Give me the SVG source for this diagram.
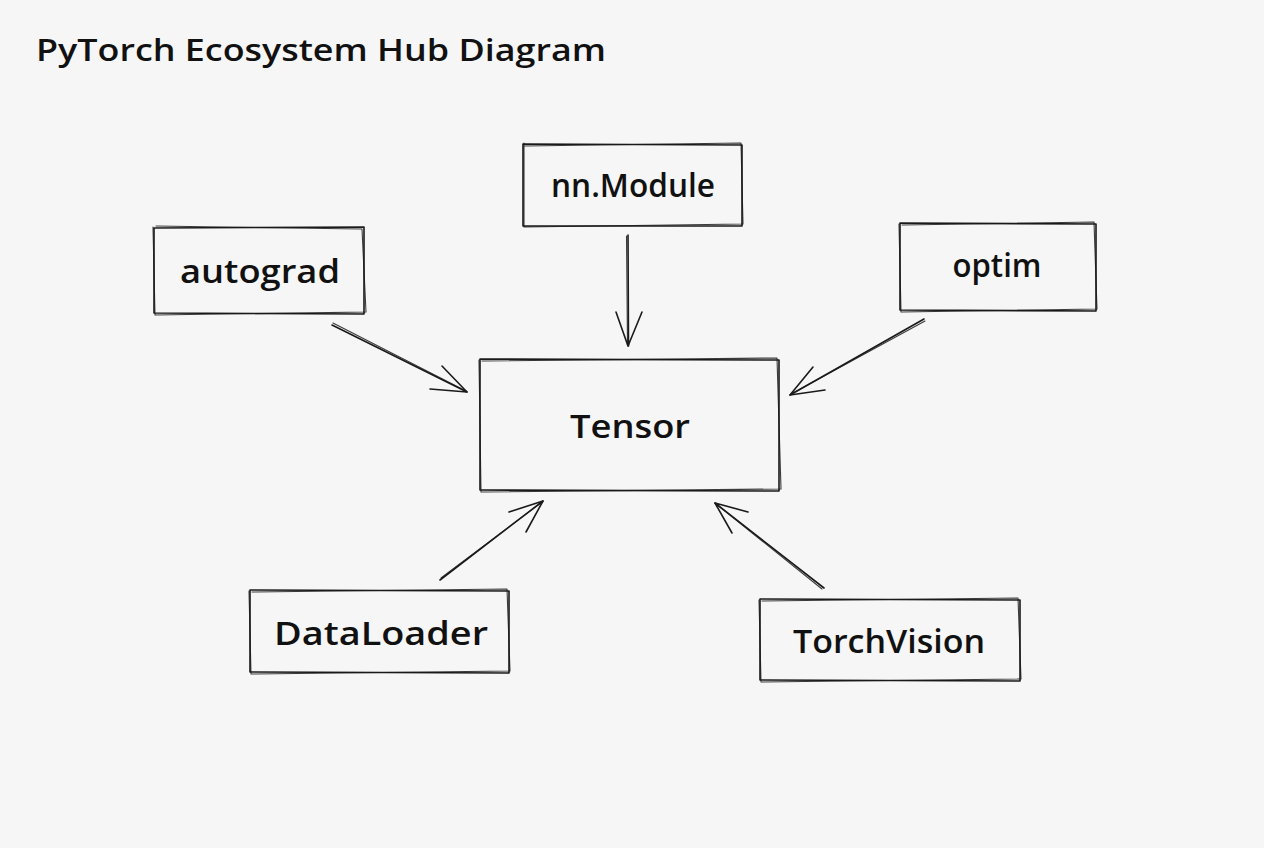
<svg xmlns="http://www.w3.org/2000/svg" width="1264" height="848" viewBox="0 0 1264 848">
<defs>
<style>
.bg{fill:#f6f6f6}
.sk{fill:none;stroke:#1a1a1a;stroke-width:1.6;stroke-linecap:round;stroke-linejoin:round}
.sk2{fill:none;stroke:#1a1a1a;stroke-width:1.1;stroke-linecap:round;stroke-linejoin:round;opacity:0.85}
.lbl{font-family:"Open Sans","Liberation Sans",sans-serif;font-size:32px;font-weight:600;fill:#111;text-anchor:middle}
.title{font-family:"Open Sans","Liberation Sans",sans-serif;font-size:30px;font-weight:600;fill:#111}
</style>
</defs>
<rect class="bg" x="0" y="0" width="1264" height="848"/>
<text class="title" x="36" y="61" textLength="570" lengthAdjust="spacingAndGlyphs">PyTorch Ecosystem Hub Diagram</text>

<g id="connectors">
  <g id="e-nnmodule-tensor">
    <path class="sk" d="M628 235 L628.5 346"/>
    <path class="sk2" d="M626.5 236 L627.5 345"/>
    <path class="sk" d="M616 312 L628 346 L642 312"/>
  </g>
  <g id="e-autograd-tensor">
    <path class="sk" d="M332 325 L467 392"/>
    <path class="sk2" d="M333 323 L466 391"/>
    <path class="sk" d="M442 366 L467 392 L430 389"/>
  </g>
  <g id="e-optim-tensor">
    <path class="sk" d="M924 319 L790 395"/>
    <path class="sk2" d="M925 321 L791 394"/>
    <path class="sk" d="M813 367 L790 395 L825 390"/>
  </g>
  <g id="e-dataloader-tensor">
    <path class="sk" d="M440 580 L543 501"/>
    <path class="sk2" d="M441 578 L542 502"/>
    <path class="sk" d="M509 512 L543 501 L526 532"/>
  </g>
  <g id="e-torchvision-tensor">
    <path class="sk" d="M824 588 L715 503"/>
    <path class="sk2" d="M822 589 L716 504"/>
    <path class="sk" d="M748 512 L715 503 L732 533"/>
  </g>
</g>

<g id="node-nnmodule">
  <path class="sk" d="M523 144 L742 145 L742 226 L523 226 Z"/>
  <path class="sk2" d="M525 146 L741 143 L743 224 L524 227 L524 143"/>
  <text class="lbl" x="633" y="197" textLength="164" lengthAdjust="spacingAndGlyphs">nn.Module</text>
</g>
<g id="node-autograd">
  <path class="sk" d="M154 228 L364 227 L364 314 L154 313 Z"/>
  <path class="sk2" d="M156 226 L362 229 L366 312 L155 315 L153 227"/>
  <text class="lbl" x="260" y="283" textLength="160" lengthAdjust="spacingAndGlyphs">autograd</text>
</g>
<g id="node-optim">
  <path class="sk" d="M900 223 L1096 224 L1096 311 L900 310 Z"/>
  <path class="sk2" d="M902 225 L1094 222 L1097 309 L901 312 L899 224"/>
  <text class="lbl" x="997" y="277" textLength="89" lengthAdjust="spacingAndGlyphs">optim</text>
</g>
<g id="node-tensor">
  <path class="sk" d="M480 359 L779 360 L779 491 L480 490 Z"/>
  <path class="sk2" d="M482 361 L777 358 L781 489 L481 492 L479 360"/>
  <text class="lbl" x="630" y="438" textLength="120" lengthAdjust="spacingAndGlyphs">Tensor</text>
</g>
<g id="node-dataloader">
  <path class="sk" d="M250 590 L509 591 L509 673 L250 672 Z"/>
  <path class="sk2" d="M252 592 L507 589 L510 671 L251 674 L249 591"/>
  <text class="lbl" x="381" y="645" textLength="214" lengthAdjust="spacingAndGlyphs">DataLoader</text>
</g>
<g id="node-torchvision">
  <path class="sk" d="M760 599 L1020 600 L1020 681 L760 680 Z"/>
  <path class="sk2" d="M762 601 L1018 598 L1021 679 L761 682 L759 600"/>
  <text class="lbl" x="889" y="653" textLength="192" lengthAdjust="spacingAndGlyphs">TorchVision</text>
</g>
</svg>
